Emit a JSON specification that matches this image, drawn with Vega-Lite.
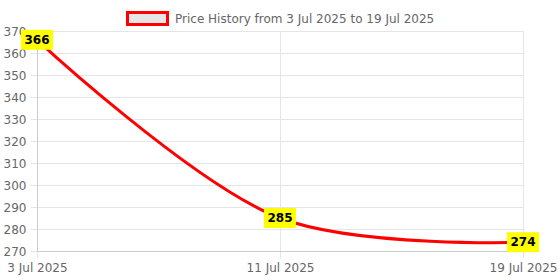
{
  "$schema": "https://vega.github.io/schema/vega-lite/v6.json",
  "width": 486,
  "height": 220,
  "autosize": {"type": "none"},
  "padding": {"left": 37, "top": 31, "right": 37, "bottom": 29},
  "background": "white",
  "data": {"values": [
    {"date": "2025-07-03", "price": 366, "series": "Price History from 3 Jul 2025 to 19 Jul 2025"},
    {"date": "2025-07-11", "price": 285, "series": "Price History from 3 Jul 2025 to 19 Jul 2025"},
    {"date": "2025-07-19", "price": 274, "series": "Price History from 3 Jul 2025 to 19 Jul 2025"}
  ]},
  "config": {
    "font": "DejaVu Sans",
    "view": {"stroke": null},
    "axis": {
      "labelColor": "#666666",
      "labelFontSize": 12,
      "gridColor": "#e5e5e5",
      "tickColor": "#e5e5e5",
      "domainColor": "#cccccc",
      "tickSize": 7,
      "title": null
    }
  },
  "encoding": {
    "x": {
      "field": "date", "type": "temporal",
      "scale": {"type": "utc", "domain": [{"year": 2025, "month": 7, "date": 3, "utc": true}, {"year": 2025, "month": 7, "date": 19, "utc": true}]},
      "axis": {
        "values": [{"year": 2025, "month": 7, "date": 3, "utc": true}, {"year": 2025, "month": 7, "date": 11, "utc": true}, {"year": 2025, "month": 7, "date": 19, "utc": true}],
        "format": "%-d %b %Y",
        "labelPadding": 4,
        "labelOverlap": false,
        "labelFlush": false,
        "grid": true
      }
    },
    "y": {
      "field": "price", "type": "quantitative",
      "scale": {"domain": [270, 370], "nice": false, "zero": false},
      "axis": {"values": [270, 280, 290, 300, 310, 320, 330, 340, 350, 360, 370], "labelPadding": 4, "grid": true}
    }
  },
  "layer": [
    {
      "mark": {"type": "line", "interpolate": "catmull-rom", "strokeWidth": 3, "clip": false},
      "encoding": {
        "color": {
          "field": "series", "type": "nominal",
          "scale": {"range": ["#ff0000"]},
          "legend": {
            "title": null,
            "orient": "none",
            "legendX": 89,
            "legendY": -34,
            "direction": "horizontal",
            "labelFontSize": 12,
            "labelColor": "#666666",
            "labelLimit": 0,
            "labelOffset": 6,
            "symbolType": "M-1,-0.3H1V0.3H-1Z",
            "symbolSize": 1600,
            "symbolStrokeWidth": 3,
            "encode": {
              "symbols": {"update": {"fill": {"value": "#e6e6e6"}, "stroke": {"value": "#ff0000"}, "strokeWidth": {"value": 3}, "opacity": {"value": 1}}}
            }
          }
        }
      }
    },
    {
      "mark": {"type": "point", "shape": "M-1,-0.625H1V0.625H-1Z", "size": 1024, "filled": true, "fill": "#ffff00", "opacity": 1, "clip": false}
    },
    {
      "mark": {"type": "text", "fontWeight": "bold", "fontSize": 12, "color": "#000000", "baseline": "middle", "align": "center", "clip": false},
      "encoding": {"text": {"field": "price", "type": "quantitative"}}
    }
  ]
}
